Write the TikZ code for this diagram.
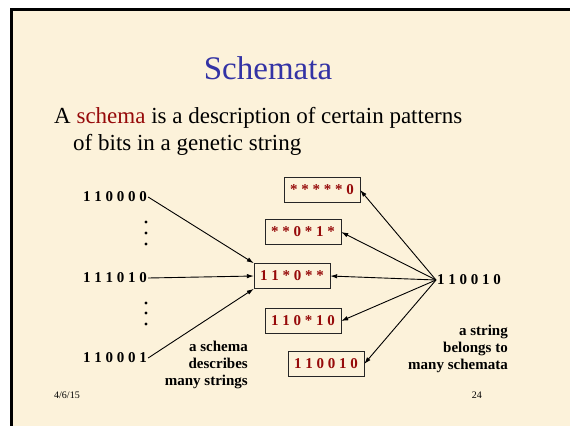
\documentclass[tikz,border=0pt]{standalone}
\usepackage{fontspec}
\setmainfont{Liberation Serif}
\usetikzlibrary{arrows.meta}

\definecolor{slidebg}{RGB}{252,242,218}
\definecolor{titleblue}{RGB}{51,51,165}
\definecolor{schemared}{RGB}{150,10,10}

\tikzset{
  bitstr/.style={font=\fontsize{15}{17}\selectfont\bfseries, inner sep=1pt},
  schemabox/.style={draw=black!85, line width=0.6pt, text=schemared,
    font=\fontsize{15}{17}\selectfont\bfseries, inner xsep=6pt,
    minimum height=25pt},
  note/.style={font=\fontsize{15}{17}\selectfont\bfseries, inner sep=0pt},
  link/.style={line width=0.9pt, -{Latex[length=7pt,width=4.5pt]}}
}

\begin{document}
\begin{tikzpicture}[x=1pt,y=-1pt]
          \useasboundingbox (0,0) rectangle (570,426);
          \fill[white] (0,0) rectangle (570,426);
          \fill[slidebg] (10,8) rectangle (570,426);
          \draw[line width=3pt] (570,9.5)--(11.5,9.5)--(11.5,426);
          % title and text
          \node[anchor=base, text=titleblue, font=\fontsize{33}{38}\selectfont] (title) at (268,79) {Schemata};
          \node[anchor=base west, inner sep=0pt, font=\fontsize{23}{28}\selectfont] (line1) at (54,123)
            {A \textcolor{schemared}{schema} is a description of certain patterns};
          \node[anchor=base west, inner sep=0pt, font=\fontsize{23}{28}\selectfont] (line2) at (73,150)
            {of bits in a genetic string};
          % strings on the left
          \node[bitstr, anchor=west] (s1) at (82,197) {1 1 0 0 0 0};
          \node[bitstr, anchor=west] (s2) at (82,278) {1 1 1 0 1 0};
          \node[bitstr, anchor=west] (s3) at (82,358) {1 1 0 0 0 1};
          \foreach \y in {222,233,244,303,313,324}
            \fill (146,\y) circle (1.7);
          % schemata
          \node[schemabox] (b1) at (322,190) {* * * * * 0};
          \node[schemabox] (b2) at (303,232) {* * 0 * 1 *};
          \node[schemabox] (b3) at (292,276) {1 1 * 0 * *};
          \node[schemabox] (b4) at (303,321) {1 1 0 * 1 0};
          \node[schemabox] (b5) at (326,364) {1 1 0 0 1 0};
          % string on the right
          \node[bitstr, anchor=west] (r) at (436,280) {1 1 0 0 1 0};
          % arrows
          \draw[link] (s1.east) -- (b3.north west);
          \draw[link] (s2.east) -- (b3.west);
          \draw[link] (s3.east) -- (b3.south west);
          \draw[link] (r.west) -- (b1.east);
          \draw[link] (r.west) -- (b2.east);
          \draw[link] (r.west) -- (b3.east);
          \draw[link] (r.west) -- (b4.east);
          \draw[link] (r.west) -- (b5.east);
          % notes
          \node[note, align=right, anchor=north east] (n1) at (248,341) {a schema\\describes\\many strings};
          \node[note, align=right, anchor=north east] (n2) at (508,325) {a string\\belongs to\\many schemata};
          % footer
          \node[anchor=west, inner sep=0pt, font=\fontsize{10}{12}\selectfont] (date) at (54,395) {4/6/15};
          \node[anchor=east, inner sep=0pt, font=\fontsize{10}{12}\selectfont] (page) at (482,395) {24};
        \end{tikzpicture}
\end{document}
